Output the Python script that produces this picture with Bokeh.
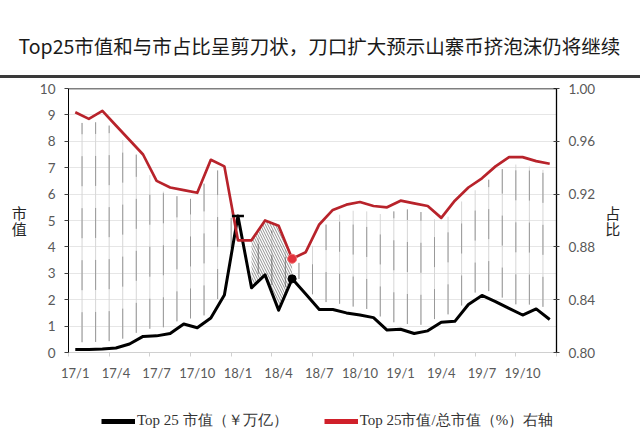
from bokeh.plotting import figure
from bokeh.models import (Range1d, LinearAxis, FixedTicker, Span, Legend, Title, Div,
                          LegendItem, NumeralTickFormatter, InlineStyleSheet)
from bokeh.layouts import column
from bokeh.embed import file_html
from bokeh.resources import INLINE

# ---------------- data ----------------
months = ["17/1", "17/2", "17/3", "17/4", "17/5", "17/6", "17/7", "17/8", "17/9", "17/10", "17/11", "17/12",
          "18/1", "18/2", "18/3", "18/4", "18/5", "18/6", "18/7", "18/8", "18/9", "18/10", "18/11", "18/12",
          "19/1", "19/2", "19/3", "19/4", "19/5", "19/6", "19/7", "19/8", "19/9", "19/10", "19/11", "19/12"]
top25_cap = [0.11, 0.11, 0.13, 0.17, 0.32, 0.61, 0.63, 0.72, 1.08, 0.94, 1.31, 2.18,
             5.17, 2.45, 2.94, 1.60, 2.79, 2.22, 1.63, 1.63, 1.50, 1.42, 1.32, 0.85,
             0.88, 0.72, 0.82, 1.15, 1.18, 1.82, 2.16, 1.93, 1.67, 1.42, 1.65, 1.25]
top25_share = [0.982, 0.977, 0.983, 0.972, 0.961, 0.950, 0.930, 0.925, 0.923, 0.921, 0.946, 0.941,
               0.885, 0.885, 0.900, 0.896, 0.871, 0.876, 0.897, 0.908, 0.912, 0.914, 0.911, 0.910,
               0.915, 0.913, 0.911, 0.902, 0.915, 0.925, 0.932, 0.941, 0.948, 0.948, 0.945, 0.943]
tick_labels = ["17/1", "17/4", "17/7", "17/10", "18/1", "18/4", "18/7", "18/10",
               "19/1", "19/4", "19/7", "19/10"]
left_ticks = [0, 1, 2, 3, 4, 5, 6, 7, 8, 9, 10]
right_ticks = [0.80, 0.84, 0.88, 0.92, 0.96, 1.00]
peak_idx = 12
mark_idx = 16
hatch_from, hatch_to = 13, 16

title_text = "Top25市值和与市占比呈剪刀状，刀口扩大预示山寨币挤泡沫仍将继续"
left_title = "市\n值"
right_title = "占\n比"
cap_label = "Top 25 市值（￥万亿）"
share_label = "Top 25市值/总市值（%）右轴"

# ---------------- derived ----------------
n = len(months)
xs = [i + 0.5 for i in range(n)]
L0, L1 = 0.0, 10.0
R0, R1 = 0.80, 1.00
def to_left(r):
    return L0 + (r - R0) / (R1 - R0) * (L1 - L0)
share_left = [to_left(v) for v in top25_share]

TICK_FONT = "Lato"
TICK_COLOR = "#595959"
CJK = "Noto Sans CJK SC"
NAN = float("nan")

# ---------------- title strip ----------------
tf = figure(width=640, height=75, x_range=Range1d(0, 1), y_range=Range1d(0, 1),
            x_axis_type=None, y_axis_type=None, output_backend="svg", toolbar_location=None,
            min_border_left=68, min_border_right=84, min_border_top=70, min_border_bottom=0,
            outline_line_color=None)
tf.xgrid.visible = False
tf.ygrid.visible = False
tf.title = Title(text=title_text, align="left", offset=-50, standoff=22,
                 text_font=CJK, text_font_size="19.5px", text_font_style="normal",
                 text_color="#1a1a1a")

# header rule
rule = Div(text="", width=640, height=3, margin=0,
           styles={"background-color": "#3a3a3a", "min-height": "3px", "height": "3px"},
           stylesheets=[InlineStyleSheet(css=":host { background-color: #3a3a3a; min-height: 3px; }")])

# ---------------- main figure ----------------
p = figure(width=640, height=305, x_range=Range1d(0, n), y_range=Range1d(L0, L1),
           output_backend="svg", toolbar_location=None,
           min_border_left=68, min_border_right=84, min_border_top=10, min_border_bottom=26,
           outline_line_color=None)
p.extra_y_ranges = {"share": Range1d(R0, R1)}

# x axis
xa = p.xaxis[0]
xa.ticker = FixedTicker(ticks=[xs[3 * k] for k in range(len(tick_labels))],
                        minor_ticks=[3 * k for k in range(n // 3 + 1)])
xa.major_label_overrides = {xs[3 * k]: lab for k, lab in enumerate(tick_labels)}
xa.major_tick_line_color = None
xa.major_tick_out = 0
xa.major_tick_in = 0
xa.minor_tick_line_color = "#d0d0d0"
xa.minor_tick_out = 4
xa.minor_tick_in = 0
xa.axis_line_color = "#d0d0d0"
xa.major_label_standoff = 8
xa.major_label_text_font = TICK_FONT
xa.major_label_text_font_size = "13px"
xa.major_label_text_color = TICK_COLOR

# left axis
ya = p.yaxis[0]
ya.ticker = FixedTicker(ticks=left_ticks)
ya.axis_line_color = "black"
ya.major_tick_line_color = "#404040"
ya.major_tick_out = 4
ya.major_tick_in = 0
ya.minor_tick_line_color = None
ya.major_label_standoff = 9
ya.major_label_text_font = TICK_FONT
ya.major_label_text_font_size = "13.5px"
ya.major_label_text_color = TICK_COLOR
ya.axis_label = left_title
ya.axis_label_orientation = "horizontal"
ya.axis_label_standoff = 10
ya.axis_label_text_font = CJK
ya.axis_label_text_font_style = "normal"
ya.axis_label_text_font_size = "15px"
ya.axis_label_text_line_height = 0.8
ya.axis_label_text_color = "#262626"

# right axis
ra = LinearAxis(y_range_name="share", ticker=FixedTicker(ticks=right_ticks),
                formatter=NumeralTickFormatter(format="0.00"))
ra.axis_line_color = "black"
ra.axis_line_width = 1.3
ra.major_tick_line_color = "#404040"
ra.major_tick_out = 3
ra.major_tick_in = 3
ra.minor_tick_line_color = None
ra.major_label_standoff = 9
ra.major_label_text_font = TICK_FONT
ra.major_label_text_font_size = "13.5px"
ra.major_label_text_color = TICK_COLOR
ra.axis_label = right_title
ra.axis_label_orientation = "horizontal"
ra.axis_label_standoff = 7
ra.axis_label_text_font = CJK
ra.axis_label_text_font_style = "normal"
ra.axis_label_text_font_size = "15px"
ra.axis_label_text_line_height = 0.8
ra.axis_label_text_color = "#262626"
p.add_layout(ra, "right")

p.xgrid.visible = False
p.ygrid.grid_line_color = "#e6e6e6"
p.ygrid.grid_line_width = 1

# top border of the plot area
p.add_layout(Span(location=L1, dimension="width", line_color="black", line_width=1.3))

# vertical connector lines between the two curves (at category boundaries)
gap = 0.28
sx, sy0, sy1 = [], [], []
for j in range(1, n):
    top = (share_left[j - 1] + share_left[j]) / 2 - gap
    bot = (top25_cap[j - 1] + top25_cap[j]) / 2 + gap
    if top - bot > 0.25:
        sx.append(j); sy0.append(bot); sy1.append(top)
p.segment(x0=sx, y0=sy0, x1=sx, y1=sy1, line_color="#d6d6d6", line_width=1)
p.segment(x0=sx, y0=sy0, x1=sx, y1=sy1, line_color="#999999", line_width=1, line_dash="30 22")

# hatched wedge
hx = xs[hatch_from:hatch_to + 1]
p.varea(x=hx, y1=top25_cap[hatch_from:hatch_to + 1], y2=share_left[hatch_from:hatch_to + 1],
        fill_alpha=0, hatch_pattern="\\", hatch_color="#3c3c3c", hatch_alpha=0.8,
        hatch_scale=5, hatch_weight=0.7)

# series lines
p.line(xs, top25_cap, line_color="black", line_width=3, line_join="round")
p.line(xs, top25_share, y_range_name="share", line_color="#b8232b", line_width=2.7, line_join="round")

# highlight markers
p.scatter([xs[peak_idx]], [top25_cap[peak_idx]], marker="dash", size=12,
          line_color="black", line_width=2.5)
p.scatter([xs[mark_idx]], [top25_share[mark_idx]], y_range_name="share", marker="circle",
          size=9, fill_color="#e2323c", line_color="#f07070", line_width=1)
p.scatter([xs[mark_idx]], [top25_cap[mark_idx]], marker="circle", size=8,
          fill_color="black", line_color="black")

# ---------------- legend strip ----------------
lg = figure(width=640, height=60, x_range=Range1d(0, 1), y_range=Range1d(0, 1),
            x_axis_type=None, y_axis_type=None, output_backend="svg", toolbar_location=None,
            min_border_left=68, min_border_right=84, min_border_top=0, min_border_bottom=0,
            outline_line_color=None)
lg.xgrid.visible = False
lg.ygrid.visible = False
# legend proxies (NaN data: nothing drawn in the strip, only the legend swatch)
lb = lg.line(x=[NAN, NAN], y=[NAN, NAN], line_color="black", line_width=5)
lr = lg.line(x=[NAN, NAN], y=[NAN, NAN], line_color="#d0202a", line_width=5)
legend = Legend(items=[LegendItem(label=cap_label, renderers=[lb]),
                       LegendItem(label=share_label, renderers=[lr])],
                orientation="horizontal", location=(33, 13), glyph_width=34, glyph_height=12,
                label_standoff=2, spacing=36, padding=0, margin=0,
                border_line_alpha=0, background_fill_alpha=0,
                label_text_font="Liberation Serif", label_text_font_size="15px",
                label_text_color="#333333")
lg.add_layout(legend)

layout = column(tf, rule, p, lg, spacing=0)
open("out.html", "w").write(file_html(layout, INLINE))
